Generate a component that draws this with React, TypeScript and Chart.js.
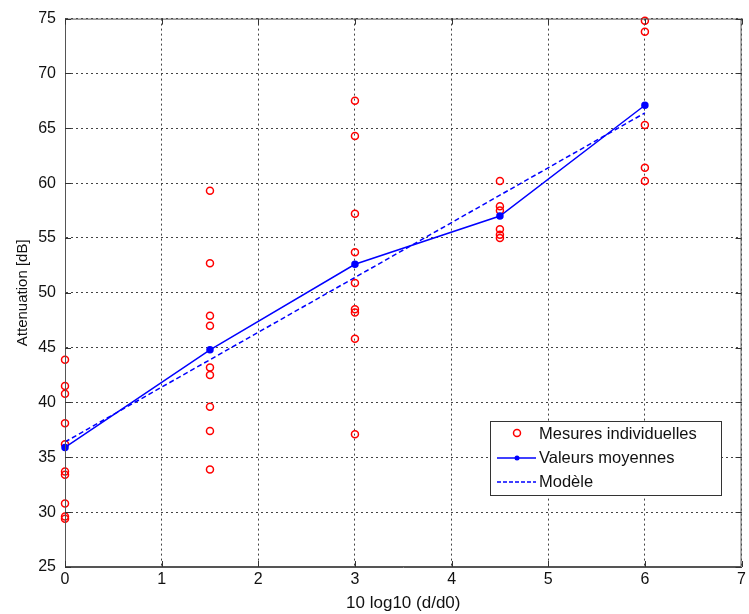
import React, { useEffect, useRef } from "react";
import { Chart, registerables } from "chart.js";

Chart.register(...registerables);

const distances = [0, 1.5, 3, 4.5, 6];
const meas0 = [43.9, 41.5, 40.8, 38.1, 36.2, 33.7, 33.4, 30.8, 29.6, 29.4];
const meas15 = [59.3, 52.7, 47.9, 47.0, 43.2, 42.5, 39.6, 37.4, 33.9];
const meas3 = [67.5, 64.3, 57.2, 53.7, 50.9, 48.5, 48.2, 45.8, 37.1];
const meas45 = [60.2, 57.9, 57.5, 55.8, 55.3, 55.0];
const meas6 = [74.8, 73.8, 65.3, 61.4, 60.2];
const meanValues = [35.9, 44.8, 52.6, 57.0, 67.1];
const modelValues = [36.4, 43.9, 51.4, 58.9, 66.4];
const legendLabels = ["Mesures individuelles", "Valeurs moyennes", "Modèle"];

const measGroups = [meas0, meas15, meas3, meas45, meas6];

const FONT = "'Liberation Sans', Arial, sans-serif";

export default function App() {
  const ref = useRef<HTMLCanvasElement | null>(null);
  useEffect(() => {
    if (!ref.current) return;
    const scatterPts: { x: number; y: number }[] = [];
    measGroups.forEach((g, i) => g.forEach((v) => scatterPts.push({ x: distances[i], y: v })));
    const meanPts = distances.map((d, i) => ({ x: d, y: meanValues[i] }));
    const modelPts = distances.map((d, i) => ({ x: d, y: modelValues[i] }));

    const framePlugin = {
      id: "frame",
      afterDatasetsDraw(chart: any) {
        const { ctx, chartArea: a, scales } = chart;
        ctx.save();
        ctx.strokeStyle = "#555";
        ctx.lineWidth = 1;
        ctx.setLineDash([]);
        ctx.strokeRect(a.left + 0.5, a.top + 0.5, a.right - a.left - 1, a.bottom - a.top - 1);
        // inward tick marks
        ctx.strokeStyle = "#333";
        ctx.beginPath();
        scales.x.ticks.forEach((t: any) => {
          const px = Math.round(scales.x.getPixelForValue(t.value)) + 0.5;
          ctx.moveTo(px, a.bottom);
          ctx.lineTo(px, a.bottom - 6);
          ctx.moveTo(px, a.top);
          ctx.lineTo(px, a.top + 6);
        });
        scales.y.ticks.forEach((t: any) => {
          const py = Math.round(scales.y.getPixelForValue(t.value)) + 0.5;
          ctx.moveTo(a.left, py);
          ctx.lineTo(a.left + 6, py);
          ctx.moveTo(a.right, py);
          ctx.lineTo(a.right - 6, py);
        });
        ctx.stroke();
        ctx.restore();
      },
      afterDraw(chart: any) {
        const { ctx } = chart;
        ctx.save();
        // legend
        const bx = 490, by = 421, bw = 231, bh = 74;
        ctx.fillStyle = "#fff";
        ctx.fillRect(bx, by, bw, bh);
        ctx.strokeStyle = "#333";
        ctx.lineWidth = 1;
        ctx.setLineDash([]);
        ctx.strokeRect(bx + 0.5, by + 0.5, bw, bh);
        ctx.font = `16.5px ${FONT}`;
        ctx.fillStyle = "#111";
        ctx.textBaseline = "middle";
        const rows = [434, 458, 482];
        legendLabels.forEach((t, i) => ctx.fillText(t, 539, rows[i]));
        ctx.strokeStyle = "#ff0000";
        ctx.lineWidth = 1.5;
        ctx.beginPath();
        ctx.arc(517, rows[0] - 1, 3.5, 0, Math.PI * 2);
        ctx.stroke();
        ctx.strokeStyle = "#0000ff";
        ctx.lineWidth = 1.5;
        ctx.beginPath();
        ctx.moveTo(497, rows[1]);
        ctx.lineTo(536, rows[1]);
        ctx.stroke();
        ctx.fillStyle = "#0000ff";
        ctx.beginPath();
        ctx.arc(517, rows[1], 2.5, 0, Math.PI * 2);
        ctx.fill();
        ctx.setLineDash([4, 2]);
        ctx.beginPath();
        ctx.moveTo(497, rows[2]);
        ctx.lineTo(536, rows[2]);
        ctx.stroke();
        ctx.restore();
      },
    };

    const chart = new Chart(ref.current, {
      type: "scatter",
      data: {
        datasets: [
          {
            label: legendLabels[2],
            data: modelPts,
            showLine: true,
            borderColor: "#0000ff",
            borderWidth: 1.5,
            borderDash: [5, 3],
            pointRadius: 0,
            clip: false as any,
          },
          {
            label: legendLabels[1],
            data: meanPts,
            showLine: true,
            borderColor: "#0000ff",
            backgroundColor: "#0000ff",
            borderWidth: 1.5,
            pointRadius: 3,
            pointStyle: "circle",
            clip: false as any,
          },
          {
            label: legendLabels[0],
            data: scatterPts,
            showLine: false,
            borderColor: "#ff0000",
            backgroundColor: "rgba(0,0,0,0)",
            borderWidth: 1.5,
            pointRadius: 3.5,
            clip: false as any,
          },
        ],
      },
      options: {
        responsive: false,
        animation: false,
        layout: { padding: { left: 8, right: 4, top: 18, bottom: 0 } },
        plugins: { legend: { display: false }, tooltip: { enabled: false } },
        scales: {
          x: {
            type: "linear",
            min: 0,
            max: 7,
            ticks: { stepSize: 1, color: "#111", font: { family: FONT, size: 16 }, padding: 3 },
            grid: { color: "#444", lineWidth: 1, drawTicks: false, tickLength: 0 },
            border: { display: true, color: "#555", dash: [2, 3] } as any,
            title: { display: true, text: "10 log10 (d/d0)", color: "#111", font: { family: FONT, size: 17 }, padding: { top: 0, bottom: 0 } },
            afterFit: (s: any) => { s.height = 47; },
          },
          y: {
            type: "linear",
            min: 25,
            max: 75,
            ticks: { stepSize: 5, color: "#111", font: { family: FONT, size: 16 }, padding: 9 },
            grid: { color: "#444", lineWidth: 1, drawTicks: false, tickLength: 0 },
            border: { display: true, color: "#555", dash: [2, 3] } as any,
            title: { display: true, text: "Attenuation [dB]", color: "#111", font: { family: FONT, size: 15 }, padding: { top: 6, bottom: 0 } },
            afterFit: (s: any) => { s.width = 57; },
          },
        },
      },
      plugins: [framePlugin],
    });
    return () => chart.destroy();
  }, []);
  return (
    <div style={{ position: "fixed", left: 0, top: 0, width: 749, height: 614, background: "#fff" }}>
      <canvas ref={ref} width={749} height={614} style={{ width: 749, height: 614 }} />
    </div>
  );
}
